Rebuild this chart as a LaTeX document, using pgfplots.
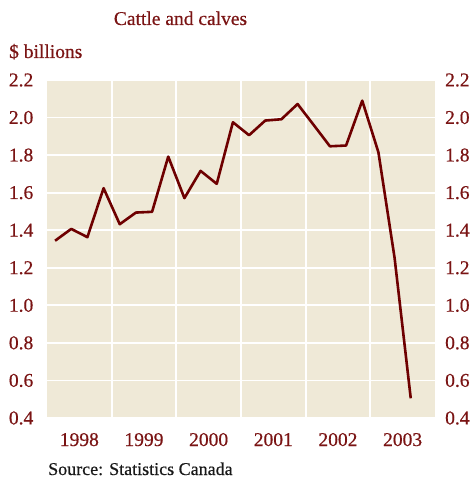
\documentclass[border=0pt]{standalone}
\usepackage{pgfplots}
\pgfplotsset{compat=1.18}
\usepackage{fontspec}
\setmainfont{Liberation Serif}[FakeBold=0.5]
\definecolor{bg}{HTML}{EFE9D7}
\definecolor{linec}{HTML}{6E0000}
\definecolor{txt}{HTML}{7A1414}
\begin{document}
\begin{tikzpicture}
\useasboundingbox (-47pt,-61pt) rectangle (427pt,418pt);
\pgfplotsset{
  common/.style={
    scale only axis, width=388pt, height=338pt,
    at={(0,0)}, anchor=south west,
    xmin=1998, xmax=2004, ymin=0.4, ymax=2.2,
    ytick={0.4,0.6,...,2.21},
    major tick length=0pt, minor tick length=0pt,
    axis line style={draw=none},
    tick label style={font=\fontsize{19.5}{22}\selectfont, text=txt, inner sep=0pt},
    /pgf/number format/assume math mode=true,
    yticklabel={\pgfmathprintnumber[fixed,fixed zerofill,precision=1]{\tick}},
  }
}
\begin{axis}[common,
  axis background/.style={fill=bg},
  xtick={1998.5,1999.5,...,2003.6},
  xticklabels={1998,1999,2000,2001,2002,2003},
  minor xtick={1999,2000,...,2003},
  xminorgrids=true, ymajorgrids=true, xmajorgrids=false,
  grid style={white, line width=1.7pt},
  minor grid style={white, line width=1.7pt},
  yticklabel style={anchor=east, xshift=-13.5pt},
  xticklabel style={anchor=base, yshift=-28pt},
]
\addplot[linec, line width=2.6pt, line join=round] coordinates {
(1998.125,1.344) (1998.375,1.407) (1998.625,1.363) (1998.875,1.624)
(1999.125,1.432) (1999.375,1.494) (1999.625,1.498) (1999.875,1.792)
(2000.125,1.571) (2000.375,1.716) (2000.625,1.647) (2000.875,1.975)
(2001.125,1.906) (2001.375,1.984) (2001.625,1.991) (2001.875,2.072)
(2002.125,1.960) (2002.375,1.847) (2002.625,1.851) (2002.875,2.090)
(2003.125,1.815) (2003.375,1.253) (2003.625,0.505)
};
\end{axis}
\begin{axis}[common,
  xtick=\empty,
  yticklabel pos=right,
  yticklabel style={anchor=west, xshift=10pt},
]
\end{axis}
\node[anchor=base, inner sep=0pt, text=txt, font=\fontsize{19.5}{22}\selectfont] at (133.5pt,393pt) {Cattle and calves};
\node[anchor=base west, inner sep=0pt, text=txt, font=\fontsize{19.5}{22}\selectfont] at (-38pt,360pt) {\$ billions};
\node[anchor=base west, inner sep=0pt, text=black!90, font=\fontsize{18}{20}\selectfont] at (1pt,-57pt) {Source: Statistics Canada};
\end{tikzpicture}
\end{document}
